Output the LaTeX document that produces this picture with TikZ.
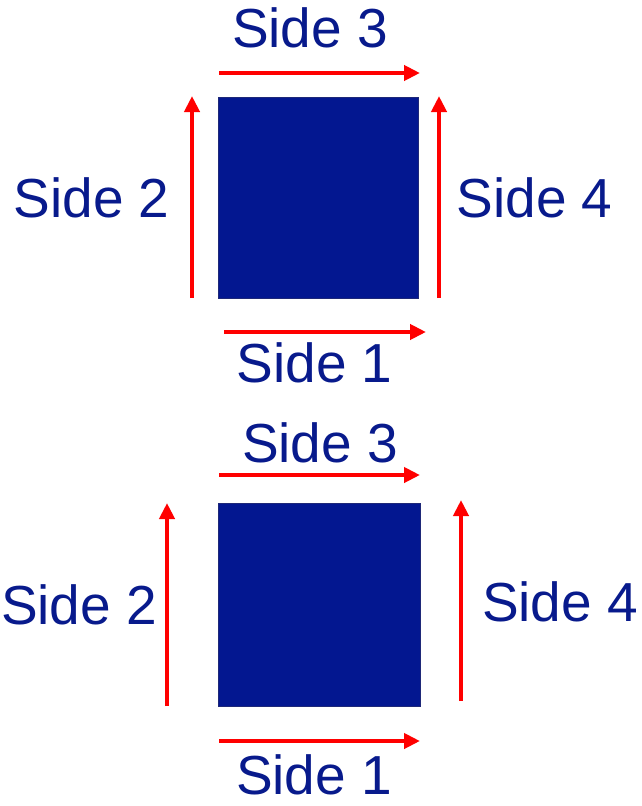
\documentclass[tikz,border=0pt]{standalone}
\usepackage{fontspec}
\setmainfont{Liberation Sans}
\usetikzlibrary{arrows.meta}
\definecolor{sqblue}{RGB}{3,23,144}
\definecolor{sqedge}{RGB}{30,40,120}
\definecolor{txtblue}{RGB}{8,26,140}
\definecolor{arrred}{RGB}{255,0,0}
\tikzset{
  sq/.style={draw=sqedge, line width=1pt, fill=sqblue},
  lbl/.style={inner sep=0pt, text=txtblue, font=\fontsize{55}{55}\selectfont},
  redarrow/.style={draw=arrred, line width=4pt, -{Triangle[length=16pt,width=15pt]}}
}
\begin{document}
\begin{tikzpicture}[x=1pt,y=-1pt]
\useasboundingbox (0,0) rectangle (641,806);
% top figure
\draw[sq] (218,97) rectangle (418,298);
\coordinate (a3s) at (219,73);  \coordinate (a3e) at (420,73);
\coordinate (a2s) at (192,298); \coordinate (a2e) at (192,96);
\coordinate (a4s) at (439,298); \coordinate (a4e) at (439,96);
\coordinate (a1s) at (224,332); \coordinate (a1e) at (426,332);
\draw[redarrow] (a3s) -- (a3e);
\draw[redarrow] (a2s) -- (a2e);
\draw[redarrow] (a4s) -- (a4e);
\draw[redarrow] (a1s) -- (a1e);
\node[lbl] (t3) at (310,28) {Side 3};
\node[lbl] (t2) at (91.5,197.5) {Side 2};
\node[lbl] (t4) at (534.5,197.5) {Side 4};
\node[lbl] (t1) at (314.5,362.5) {Side 1};
% bottom figure
\draw[sq] (218,503) rectangle (420,706);
\coordinate (b3s) at (219,475); \coordinate (b3e) at (420,475);
\coordinate (b2s) at (167,706); \coordinate (b2e) at (167,503);
\coordinate (b4s) at (461,701); \coordinate (b4e) at (461,500);
\coordinate (b1s) at (219,741); \coordinate (b1e) at (420,741);
\draw[redarrow] (b3s) -- (b3e);
\draw[redarrow] (b2s) -- (b2e);
\draw[redarrow] (b4s) -- (b4e);
\draw[redarrow] (b1s) -- (b1e);
\node[lbl] (u3) at (320,442.5) {Side 3};
\node[lbl] (u2) at (79,605) {Side 2};
\node[lbl] (u4) at (560,602) {Side 4};
\node[lbl] (u1) at (314,775) {Side 1};
\end{tikzpicture}
\end{document}
